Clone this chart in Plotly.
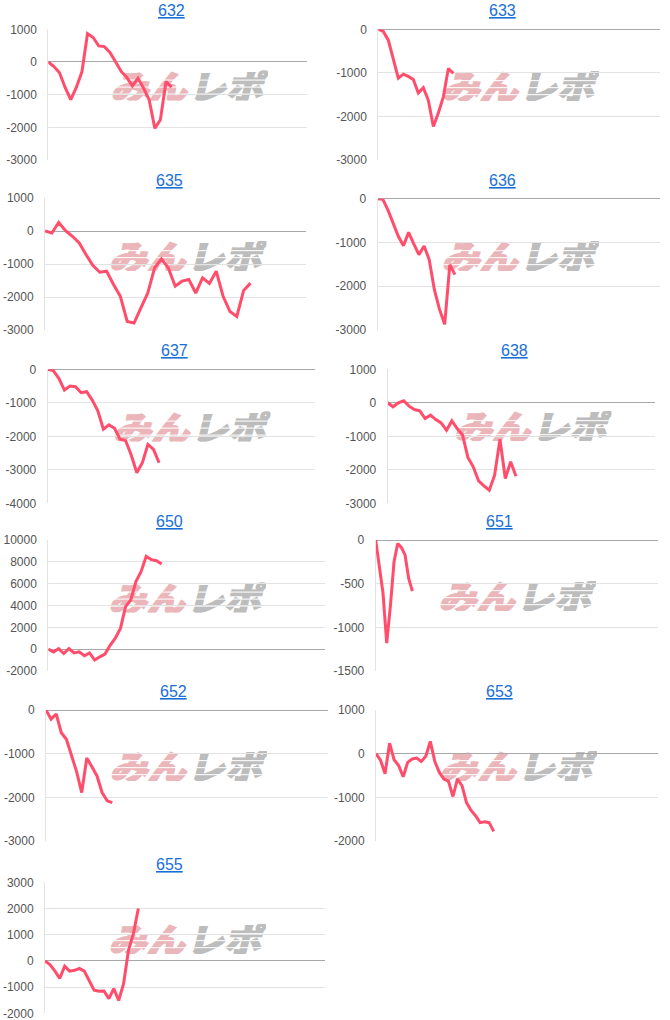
import base64
import plotly.graph_objects as go

# ---------------- data ----------------
names = ["632", "633", "635", "636", "637", "638", "650", "651", "652", "653", "655"]

v632 = [0, -140, -330, -780, -1150, -780, -300, 870, 750, 490, 470, 290, 10, -290, -470,
        -730, -500, -800, -1160, -2030, -1770, -600, -770]
v633 = [0, -50, -250, -670, -1120, -1030, -1080, -1150, -1460, -1340, -1630, -2230, -1920,
        -1550, -900, -1010]
v635 = [0, -60, 260, 10, -160, -360, -720, -1050, -1250, -1220, -1620, -1980, -2740, -2790,
        -2330, -1880, -1120, -850, -1120, -1670, -1520, -1470, -1880, -1420, -1590, -1220,
        -1980, -2440, -2590, -1800, -1580]
v636 = [0, -15, -260, -560, -860, -1075, -770, -1030, -1280, -1080, -1390, -2080, -2530,
        -2870, -1510, -1735]
v637 = [0, -40, -270, -620, -500, -520, -700, -670, -920, -1240, -1790, -1660, -1760, -2090,
        -2130, -2560, -3090, -2790, -2240, -2390, -2790]
v638 = [0, -120, 0, 60, -100, -200, -240, -470, -370, -500, -600, -820, -540, -770, -960,
        -1630, -1910, -2330, -2480, -2610, -2160, -1090, -2260, -1760, -2190]
v650 = [0, -250, 50, -400, 50, -350, -250, -600, -350, -1000, -700, -450, 350, 1000, 1900,
        3900, 4500, 6200, 7100, 8500, 8200, 8100, 7800]
v651 = [0, -300, -610, -1180, -760, -250, -40, -85, -170, -440, -585]
v652 = [0, -210, -90, -520, -670, -1030, -1410, -1890, -1100, -1300, -1510, -1890, -2080, -2120]
v653 = [0, -150, -460, 240, -140, -270, -530, -200, -120, -100, -180, -60, 280, -180, -430,
        -580, -630, -980, -580, -730, -1120, -1300, -1420, -1580, -1560, -1580, -1780]
v655 = [0, -140, -380, -670, -200, -390, -360, -290, -390, -760, -1120, -1160, -1150, -1440,
        -1060, -1510, -870, 410, 1040, 2000]

series = [v632, v633, v635, v636, v637, v638, v650, v651, v652, v653, v655]

# y tick values per chart
ticks = [
    [-3000, -2000, -1000, 0, 1000],
    [-3000, -2000, -1000, 0],
    [-3000, -2000, -1000, 0, 1000],
    [-3000, -2000, -1000, 0],
    [-4000, -3000, -2000, -1000, 0],
    [-3000, -2000, -1000, 0, 1000],
    [-2000, 0, 2000, 4000, 6000, 8000, 10000],
    [-1500, -1000, -500, 0],
    [-3000, -2000, -1000, 0],
    [-2000, -1000, 0, 1000],
    [-2000, -1000, 0, 1000, 2000, 3000],
]

# ---------------- layout (pixels) ----------------
W, H = 670, 1020


def px(x):
    return min(1.0, max(0.0, x / W))


def py(y):
    return min(1.0, max(0.0, 1 - y / H))


# plot area: left, right, top, bottom
boxes = [
    (48.3, 306.7, 29.3, 160), (378.3, 660, 29.3, 160),
    (45, 306, 198, 330), (377.7, 660, 198.7, 330),
    (47.7, 315, 369.3, 503.3), (387.7, 655, 369.3, 503.3),
    (48.3, 325, 540, 671), (375.7, 658, 540, 671),
    (46, 328, 710, 841), (376, 658, 710, 841),
    (45, 325, 882.3, 1013.3),
]
xmax = [46.1, 56.3, 38.1, 54.8, 48, 50, 53.7, 77, 55.3, 62.3, 57]
title_pos = [(171, 11), (502, 11), (169.5, 180), (502, 180), (174.5, 350), (514.7, 350),
             (169, 521.7), (499.3, 521.7), (173, 691.7), (499.3, 691.7), (169, 864)]
wm_pos = [(188, 85.5), (519, 86), (186.5, 256), (519, 256), (190.5, 426.5), (531.5, 426),
          (186, 597.5), (516, 596), (187, 766), (517, 766), (186, 939)]

LINE = "#ff4d6b"
GRID = "#e3e3e3"
ZERO = "#a8a8a8"
FONT = "Arial, Liberation Sans, sans-serif"

svg = '''<svg xmlns="http://www.w3.org/2000/svg" width="160" height="30" viewBox="0 0 160 30">
<g transform="skewX(-14)" font-family="Noto Sans CJK JP" font-weight="900" font-size="34">
<text x="10" y="29" fill="#ebb6ba" stroke="#ebb6ba" stroke-width="1.6" textLength="76" lengthAdjust="spacingAndGlyphs">みん</text>
<text x="88" y="29" fill="#bdbdbd" stroke="#bdbdbd" stroke-width="1.6" textLength="74" lengthAdjust="spacingAndGlyphs">レポ</text>
</g>
<g fill="#ffffff" opacity="0.85">
<rect x="0" y="9" width="160" height="1.2"/>
<rect x="0" y="16" width="160" height="1.2"/>
<rect x="0" y="23" width="160" height="1.2"/>
</g></svg>'''
wm_src = "data:image/svg+xml;base64," + base64.b64encode(svg.encode("utf-8")).decode()

fig = go.Figure()
annotations = []
images = []
layout_axes = {}

for i, (name, vals) in enumerate(zip(names, series)):
    k = "" if i == 0 else str(i + 1)
    xa, ya = "x" + k, "y" + k
    l, r, t, b = boxes[i]
    tv = ticks[i]
    fig.add_trace(go.Scatter(
        x=list(range(len(vals))), y=vals, xaxis=xa, yaxis=ya, mode="lines",
        line=dict(color=LINE, width=3), hoverinfo="skip", showlegend=False,
    ))
    layout_axes["xaxis" + k] = dict(
        domain=[px(l), px(r)], range=[0, xmax[i]], anchor=ya, automargin=False,
        showgrid=False, zeroline=False, showline=False, showticklabels=False, ticks="",
        fixedrange=True,
    )
    layout_axes["yaxis" + k] = dict(
        domain=[py(b), py(t)], range=[min(tv), max(tv)], anchor=xa, automargin=False,
        tickvals=tv, ticktext=[str(v) for v in tv],
        showgrid=True, gridcolor=GRID, gridwidth=1,
        zeroline=True, zerolinecolor=ZERO, zerolinewidth=1,
        showline=True, linecolor=GRID, linewidth=1,
        ticks="", ticklabelstandoff=8, ticklabeloverflow="allow",
        tickfont=dict(family=FONT, size=12, color="#555555"),
        fixedrange=True,
    )
    tx, ty = title_pos[i]
    annotations.append(dict(
        xref="paper", yref="paper", x=px(tx), y=py(ty), xanchor="center", yanchor="middle",
        text="<u>" + name + "</u>", showarrow=False,
        font=dict(family=FONT, size=16, color="#1a6fd6"),
    ))
    cx, cy = wm_pos[i]
    images.append(dict(
        source=wm_src, xref="paper", yref="paper",
        x=px(cx - 80), y=py(cy - 15), sizex=160 / W, sizey=30 / H,
        xanchor="left", yanchor="top", sizing="stretch", layer="below", opacity=1,
    ))

fig.update_layout(
    width=W, height=H, margin=dict(l=0, r=0, t=0, b=0, pad=0, autoexpand=False),
    paper_bgcolor="white", plot_bgcolor="rgba(0,0,0,0)",
    annotations=annotations, images=images, showlegend=False,
    **layout_axes,
)

fig.write_html("out.html", config={"displayModeBar": False})
